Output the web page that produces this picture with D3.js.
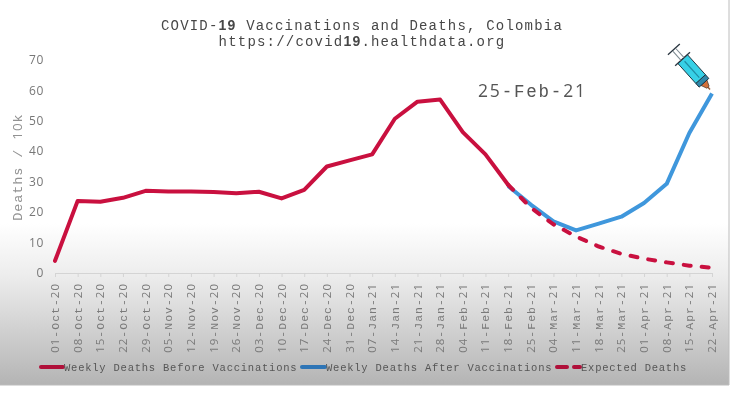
<!DOCTYPE html>
<html>
<head>
<meta charset="utf-8">
<script src="https://cdn.jsdelivr.net/npm/d3@7"></script>
<style>
    html, body { margin: 0; padding: 0; background: #fff; }
    /* the original is a soft screen grab */
    svg { display: block; filter: blur(0.4px); }
    text { font-family: "Liberation Mono", monospace; }
    .digit { font-family: "Open Sans", sans-serif; }
    .digit-bold { font-family: "Liberation Sans", sans-serif; font-weight: bold; }
</style>
</head>
<body>
<div id="chart"></div>
<script>
// chart data
const dates = ["01-Oct-20", "08-Oct-20", "15-Oct-20", "22-Oct-20", "29-Oct-20", "05-Nov-20", "12-Nov-20", "19-Nov-20",
    "26-Nov-20", "03-Dec-20", "10-Dec-20", "17-Dec-20", "24-Dec-20", "31-Dec-20", "07-Jan-21", "14-Jan-21", "21-Jan-21",
    "28-Jan-21", "04-Feb-21", "11-Feb-21", "18-Feb-21", "25-Feb-21", "04-Mar-21", "11-Mar-21", "18-Mar-21", "25-Mar-21",
    "01-Apr-21", "08-Apr-21", "15-Apr-21", "22-Apr-21"];
const beforeDates = dates.slice(0, 21);
const afterDates = dates.slice(20);
const beforeValues = [4, 23.7, 23.4, 24.7, 27, 26.8, 26.8, 26.6, 26.2, 26.7, 24.5, 27.3, 35, 37, 39, 50.7, 56.3, 57, 46.3, 39, 29];
const afterValues = [28.6, 22.5, 17, 14, 16.2, 18.5, 23, 29.3, 46, 59];
const expectedValues = [29, 21.5, 16, 12, 8.7, 6.3, 4.7, 3.5, 2.4, 1.7];
const yTicks = [0, 10, 20, 30, 40, 50, 60, 70];
const legendLabels = ["Weekly Deaths Before Vaccinations", "Weekly Deaths After Vaccinations", "Expected Deaths"];

const red = "#c9103f";
const blue = "#3f97dc";

let svg = d3.select("#chart").append("svg")
    .attr("width", 740)
    .attr("height", 395);

// background panel, white fading to grey at the bottom
let grad = svg.append("defs").append("linearGradient")
    .attr("id", "panelFade")
    .attr("x1", 0).attr("x2", 0).attr("y1", 0).attr("y2", 1);
grad.append("stop").attr("offset", "58%").attr("stop-color", "#ffffff");
grad.append("stop").attr("offset", "72%").attr("stop-color", "#ececec");
grad.append("stop").attr("offset", "100%").attr("stop-color", "#b4b4b4");

svg.append("rect")
    .attr("width", 729)
    .attr("height", 385)
    .attr("fill", "url(#panelFade)");
svg.append("path")
    .attr("d", "M729,0V385H0")
    .attr("fill", "none")
    .attr("stroke", "#bcbcbc");

let x = d3.scalePoint().domain(dates).range([55, 712]);
let y = d3.scaleLinear().domain([0, 70]).range([273, 60]);

// numbers in the original are set in a sans font, the rest in a typewriter one
function mixedText(sel, str, boldDigits) {
    str.split(/(\d+)/).filter(s => s.length).forEach(part => {
        let span = sel.append("tspan").text(part);
        if (/\d/.test(part)) {
            span.attr("class", boldDigits ? "digit-bold" : "digit");
        }
    });
}

// axes
let xAxisGroup = svg.append("g")
    .attr("transform", "translate(0,273)")
    .call(d3.axisBottom(x).tickSize(4).tickFormat(""));
xAxisGroup.selectAll("path, line").attr("stroke", "#d4d4d4");
xAxisGroup.selectAll(".tick text").remove();

dates.forEach(d => {
    let label = svg.append("text")
        .attr("transform", "translate(" + x(d) + ",283)rotate(-90)")
        .attr("dy", "0.35em")
        .attr("text-anchor", "end")
        .attr("font-size", 11.5)
        .attr("letter-spacing", 1)
        .attr("fill", "#7a7a7a");
    mixedText(label, d);
});

svg.append("g")
    .selectAll("text")
    .data(yTicks)
    .enter()
    .append("text")
    .attr("class", "digit")
    .attr("x", 44)
    .attr("y", d => y(d))
    .attr("dy", "0.35em")
    .attr("text-anchor", "end")
    .attr("font-size", 12)
    .attr("letter-spacing", 0.6)
    .attr("fill", "#777777")
    .text(d => d);

svg.append("text")
    .attr("transform", "translate(22,167)rotate(-90)")
    .attr("text-anchor", "middle")
    .attr("font-size", 13.5)
    .attr("letter-spacing", 0.9)
    .attr("fill", "#929292")
    .call(mixedText, "Deaths / 10k");

// titles
let titleLines = ["COVID-19 Vaccinations and Deaths, Colombia", "https://covid19.healthdata.org"];
titleLines.forEach((t, i) => {
    svg.append("text")
        .attr("x", 362)
        .attr("y", 29.5 + i * 16)
        .attr("text-anchor", "middle")
        .attr("font-size", 14)
        .attr("letter-spacing", 1.2)
        .attr("fill", "#474747")
        .call(mixedText, t, true);
});

svg.append("text")
    .attr("x", 478)
    .attr("y", 97)
    .attr("font-size", 17.5)
    .attr("letter-spacing", 1.8)
    .attr("fill", "#555555")
    .call(mixedText, "25-Feb-21");

// lines
let line = d3.line().x(d => x(d.date)).y(d => y(d.value));
let zipDates = (ds, vs) => vs.map((v, i) => ({date: ds[i], value: v}));

svg.append("path")
    .attr("d", line(zipDates(afterDates, afterValues)))
    .attr("fill", "none")
    .attr("stroke", blue)
    .attr("stroke-width", 4)
    .attr("stroke-linejoin", "round");

svg.append("path")
    .attr("d", line(zipDates(afterDates, expectedValues)))
    .attr("fill", "none")
    .attr("stroke", red)
    .attr("stroke-width", 4)
    .attr("stroke-linecap", "round")
    .attr("stroke-dasharray", "7,11");

svg.append("path")
    .attr("d", line(zipDates(beforeDates, beforeValues)))
    .attr("fill", "none")
    .attr("stroke", red)
    .attr("stroke-width", 4)
    .attr("stroke-linecap", "round")
    .attr("stroke-linejoin", "round");

// syringe sits on the last point of the blue line, pointing down at it
let last = afterDates[afterDates.length - 1];
let syringe = svg.append("g")
    .attr("transform", "translate(" + (x(last) - 2) + "," + (y(59) - 4) + ")rotate(228)");
syringe.append("path").attr("d", "M0,0H5").attr("stroke", "#9c5a33").attr("stroke-width", 1.5);
syringe.append("path").attr("d", "M3,-1.5L9,-4V4L3,1.5Z").attr("fill", "#d2703a").attr("stroke", "#4a3a30").attr("stroke-width", 0.7);
syringe.append("rect").attr("x", 9).attr("y", -6.5).attr("width", 5).attr("height", 13)
    .attr("fill", "#2f86a8").attr("stroke", "#1c2f3c").attr("stroke-width", 0.9);
syringe.append("rect").attr("x", 14).attr("y", -6.5).attr("width", 27).attr("height", 13)
    .attr("fill", "#37d0e6").attr("stroke", "#1c2f3c").attr("stroke-width", 0.9);
syringe.append("path").attr("d", "M16,0H38").attr("stroke", "#1f8ca3").attr("stroke-width", 1.2);
syringe.append("path").attr("d", "M41,-10V10").attr("stroke", "#2a3640").attr("stroke-width", 1.3);
syringe.append("path").attr("d", "M41,-2H53M41,2H53").attr("stroke", "#7f8c93").attr("stroke-width", 1.1);
syringe.append("path").attr("d", "M54,-8V8").attr("stroke", "#2a3640").attr("stroke-width", 1.3);

// legend
let legendY = 367;
let legendKeys = [
    {x1: 41, x2: 63, color: "#b0103a", dash: null, textX: 64},
    {x1: 302, x2: 325, color: "#2e75b6", dash: null, textX: 326},
    {x1: 557, x2: 580, color: "#b0103a", dash: "10,7", textX: 581}
];
legendLabels.forEach((label, i) => {
    let k = legendKeys[i];
    svg.append("line")
        .attr("x1", k.x1).attr("x2", k.x2)
        .attr("y1", legendY).attr("y2", legendY)
        .attr("stroke", k.color)
        .attr("stroke-width", 4)
        .attr("stroke-linecap", "round")
        .attr("stroke-dasharray", k.dash);
    svg.append("text")
        .attr("x", k.textX)
        .attr("y", legendY + 3.5)
        .attr("font-size", 10.5)
        .attr("letter-spacing", 0.77)
        .attr("fill", "#565656")
        .text(label);
});
</script>
</body>
</html>
